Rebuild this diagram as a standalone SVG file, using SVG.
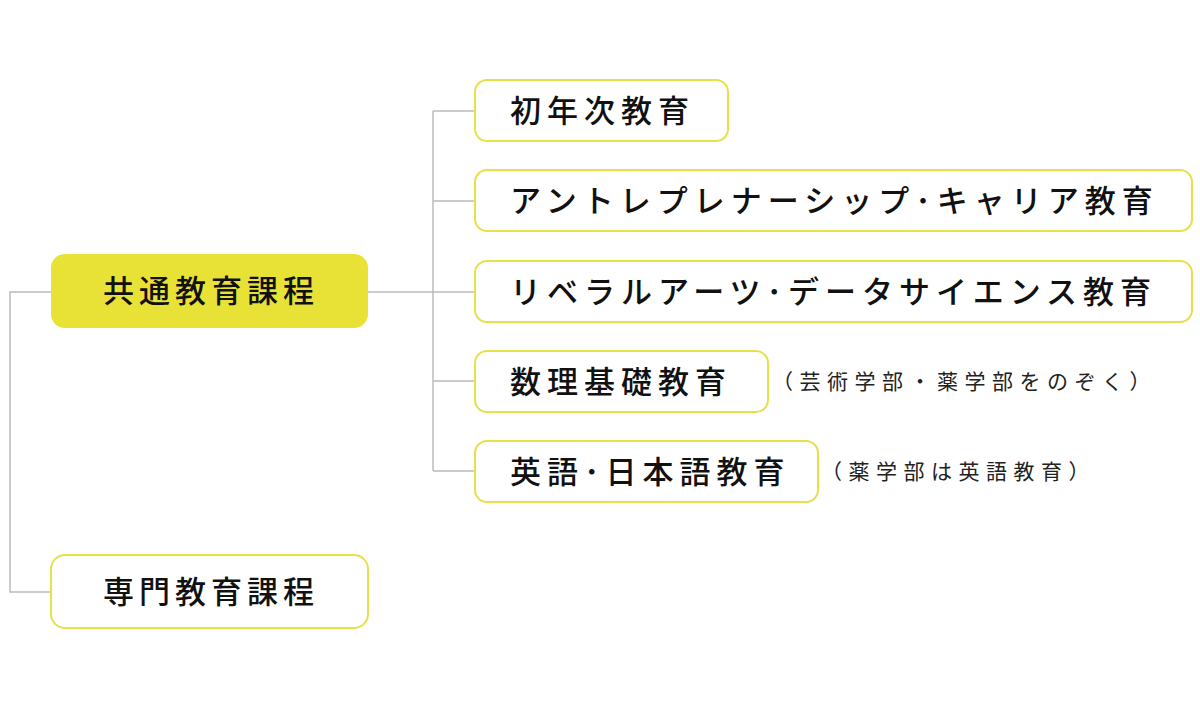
<svg xmlns="http://www.w3.org/2000/svg" width="1200" height="720" viewBox="0 0 1200 720">
<style>
.b{fill:#fff;stroke:#E6E04A;stroke-width:2}
.t{font-family:"Noto Sans CJK JP",sans-serif;font-size:31px;font-weight:500;fill:#111;letter-spacing:6px}
.n{font-family:"Noto Sans CJK JP",sans-serif;font-size:21px;fill:#222;letter-spacing:6.5px}
.c{fill:none;stroke:#bbb;stroke-width:1.5}
</style>
<rect width="1200" height="720" fill="#fff"/>
<g id="connectors">
<path class="c" d="M51 292H10V592H51"/>
<path class="c" d="M368 292H475"/>
<path class="c" d="M433 111V471"/>
<path class="c" d="M433 111H475M433 201H475M433 381H475M433 471H475"/>
</g>
<g id="common"><rect x="51" y="254" width="317" height="74" rx="14" fill="#E8E237"/><text class="t" x="103" y="302" style="letter-spacing:5px">共通教育課程</text></g>
<g id="senmon"><rect class="b" x="51" y="555" width="317" height="73" rx="14"/><text class="t" x="103" y="603" style="letter-spacing:5px">専門教育課程</text></g>
<g id="n1"><rect class="b" x="475" y="80" width="253" height="61" rx="12"/><text class="t" x="510" y="122">初年次教育</text></g>
<g id="n2"><rect class="b" x="475" y="170" width="717" height="61" rx="12"/><text class="t" x="510" y="212">アントレプレナーシップ･キャリア教育</text></g>
<g id="n3"><rect class="b" x="475" y="261" width="717" height="61" rx="12"/><text class="t" x="510" y="303">リベラルアーツ･データサイエンス教育</text></g>
<g id="n4"><rect class="b" x="475" y="351" width="293" height="61" rx="12"/><text class="t" x="510" y="393">数理基礎教育</text><text class="n" x="772" y="389">（芸術学部・薬学部をのぞく）</text></g>
<g id="n5"><rect class="b" x="475" y="441" width="343" height="61" rx="12"/><text class="t" x="510" y="483">英語･日本語教育</text><text class="n" x="821" y="479">（薬学部は英語教育）</text></g>
</svg>
